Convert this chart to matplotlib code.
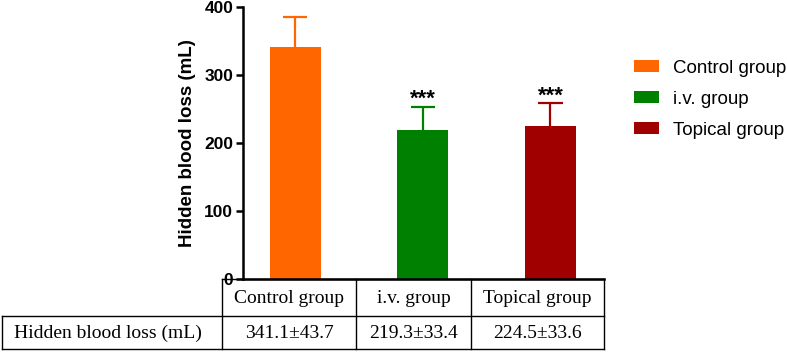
import matplotlib
matplotlib.use("Agg")
import matplotlib.pyplot as plt
from matplotlib.lines import Line2D
from matplotlib.patches import Patch
import numpy as np

# data
groups = ["Control group", "i.v. group", "Topical group"]
means = [341.1, 219.3, 224.5]
sds = [43.7, 33.4, 33.6]
stars = ["", "***", "***"]
row_label = "Hidden blood loss (mL)"
colors = ["#FF6600", "#008000", "#A00000"]

W, H = 787, 352
fig = plt.figure(figsize=(W / 100, H / 100), dpi=100)

# axes box in pixel coordinates (left, top, right, bottom)
ax_l, ax_t, ax_r, ax_b = 243, 7, 604, 279
ax = fig.add_axes([ax_l / W, 1 - ax_b / H, (ax_r - ax_l) / W, (ax_b - ax_t) / H])

x = np.arange(len(groups))
ax.bar(x, means, width=0.4, color=colors, zorder=2)
# upper-only error bars with cap
tops = np.array(means) + np.array(sds)
ax.vlines(x, means, tops, colors=colors, lw=1.6, zorder=1)
ax.hlines(tops, x - 0.095, x + 0.095, colors=colors, lw=1.6, zorder=1)
for xi, t, st in zip(x, tops, stars):
    if st:
        ax.annotate(st, (xi, t), xytext=(0, -2), textcoords="offset points",
                    ha="center", va="bottom", fontsize=16, fontweight="bold",
                    family="Liberation Sans")

ax.set_xlim(-0.41, 2.42)
ax.set_ylim(0, 400)
ax.set_yticks([0, 100, 200, 300, 400])
ax.set_xticks([])
for side in ["top", "right"]:
    ax.spines[side].set_visible(False)
for side in ["left", "bottom"]:
    ax.spines[side].set_linewidth(1.8)
ax.tick_params(axis="y", width=1.8, length=5, labelsize=12.5, pad=2)
for lab in ax.get_yticklabels():
    lab.set_fontweight("bold")
    lab.set_family("Liberation Sans")
ax.set_ylabel(row_label, fontsize=13.5, fontweight="bold", family="Liberation Sans",
              labelpad=6)

# legend
handles = [Patch(facecolor=c, label=g) for c, g in zip(colors, groups)]
fig.legend(handles=handles, loc="upper left", bbox_to_anchor=(628 / W, 1 - 54 / H),
           frameon=False, prop={"family": "Liberation Sans", "size": 13.5},
           handlelength=1.35, handleheight=0.6, labelspacing=0.75, handletextpad=0.75,
           borderaxespad=0, borderpad=0.3)

# table under the axis
col_x = [222, 356, 471, 604]
left_x = 2
row_y = [279, 316, 349]


def px(xp, yp):
    return xp / W, 1 - yp / H


def hline(x0, x1, y):
    a, b = px(x0, y)
    c, _ = px(x1, y)
    fig.add_artist(Line2D([a, c], [b, b], color="black", lw=1.0))


def vline(xv, y0, y1):
    a, b = px(xv, y0)
    _, d = px(xv, y1)
    fig.add_artist(Line2D([a, a], [b, d], color="black", lw=1.0))


hline(col_x[0], col_x[-1], row_y[0])
hline(left_x, col_x[-1], row_y[1])
hline(left_x, col_x[-1], row_y[2])
for cx in col_x:
    vline(cx, row_y[0], row_y[2])
vline(left_x, row_y[1], row_y[2])

tkw = dict(family="Liberation Serif", fontsize=14, va="center", ha="center")
for i, g in enumerate(groups):
    xc = (col_x[i] + col_x[i + 1]) / 2
    fig.text(*px(xc, (row_y[0] + row_y[1]) / 2 + 1), g, **tkw)
    fig.text(*px(xc, (row_y[1] + row_y[2]) / 2 + 1),
             f"{means[i]:.1f}\u00b1{sds[i]:.1f}", **tkw)
fig.text(*px((left_x + col_x[0]) / 2 - 4, (row_y[1] + row_y[2]) / 2 + 1), row_label, **tkw)

fig.savefig("out.png", dpi=100)
